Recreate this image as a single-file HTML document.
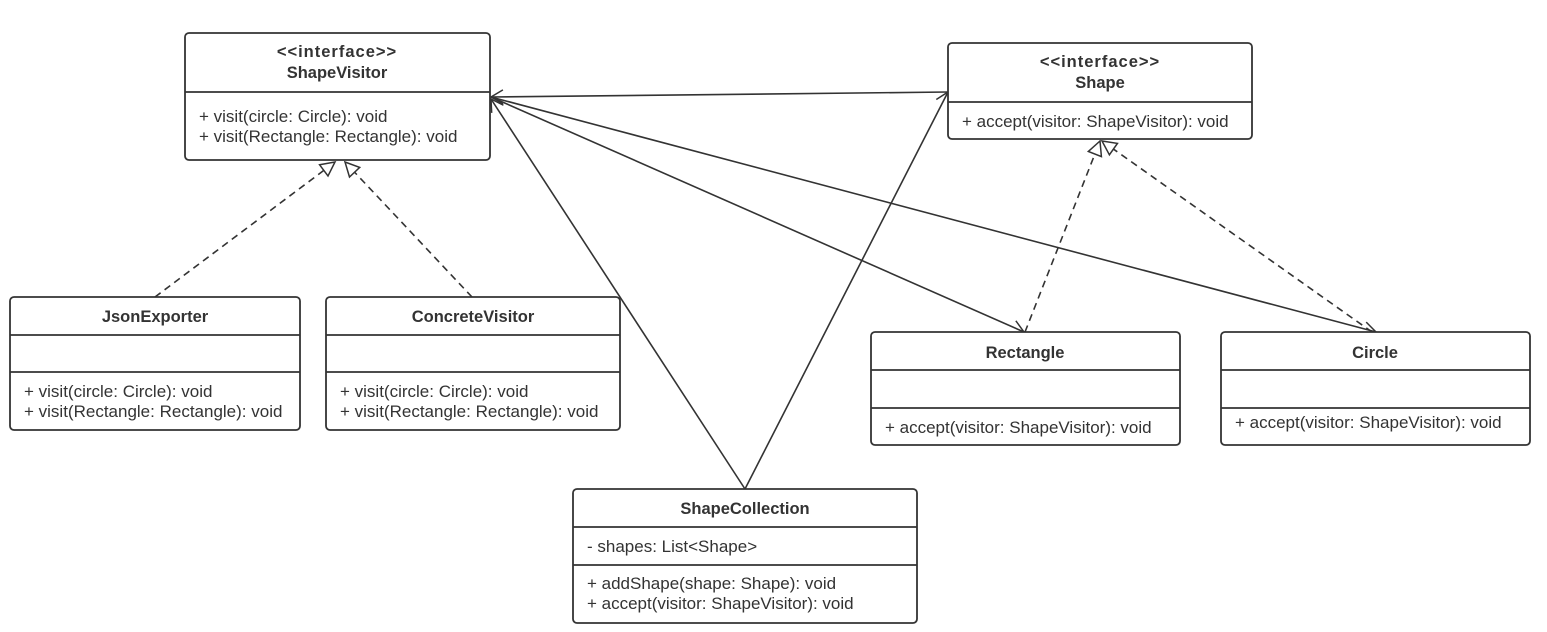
<!DOCTYPE html>
<html><head><meta charset="utf-8"><style>body{margin:0;background:#fff}svg{display:block}text{font-family:"Liberation Sans","Noto Sans CJK SC",sans-serif;font-size:17px;fill:#333}.b{font-weight:bold;text-anchor:middle;font-size:16.5px}</style></head><body>
<svg width="1547" height="632" viewBox="0 0 1547 632">
<defs>
<marker id="open" markerWidth="16" markerHeight="16" refX="13" refY="8" orient="auto" markerUnits="userSpaceOnUse"><path d="M1,1 L13,8 L1,15" fill="none" stroke="#333" stroke-width="1.5"/></marker>
<marker id="tri" markerWidth="18" markerHeight="18" refX="16" refY="9" orient="auto" markerUnits="userSpaceOnUse"><path d="M2,2 L16,9 L2,16 Z" fill="#fff" stroke="#333" stroke-width="1.5"/></marker>
</defs>
<g stroke="#333" stroke-width="1.6" fill="none">
<line x1="155" y1="297" x2="335" y2="162" stroke-dasharray="7,5" marker-end="url(#tri)"/>
<line x1="472" y1="297" x2="345" y2="162" stroke-dasharray="7,5" marker-end="url(#tri)"/>
<line x1="1025" y1="332" x2="1100" y2="141" stroke-dasharray="7,5" marker-end="url(#tri)"/>
<line x1="1372" y1="332" x2="1102" y2="141" stroke-dasharray="7,5" marker-end="url(#tri)"/>
<line x1="948" y1="92" x2="491" y2="97" marker-end="url(#open)"/>
<line x1="491" y1="97" x2="1024" y2="332" marker-end="url(#open)"/>
<line x1="491" y1="97" x2="1376" y2="332" marker-end="url(#open)"/>
<line x1="745" y1="489" x2="491" y2="99" marker-end="url(#open)"/>
<line x1="745" y1="489" x2="948" y2="92" marker-end="url(#open)"/>
</g>
<g stroke="#333" stroke-width="1.8" fill="#fff">
<rect x="185" y="33" width="305" height="127" rx="4"/><line x1="185" y1="92" x2="490" y2="92"/>
<rect x="948" y="43" width="304" height="96" rx="4"/><line x1="948" y1="102" x2="1252" y2="102"/>
<rect x="10" y="297" width="290" height="133" rx="4"/><line x1="10" y1="335" x2="300" y2="335"/><line x1="10" y1="372" x2="300" y2="372"/>
<rect x="326" y="297" width="294" height="133" rx="4"/><line x1="326" y1="335" x2="620" y2="335"/><line x1="326" y1="372" x2="620" y2="372"/>
<rect x="871" y="332" width="309" height="113" rx="4"/><line x1="871" y1="370" x2="1180" y2="370"/><line x1="871" y1="408" x2="1180" y2="408"/>
<rect x="1221" y="332" width="309" height="113" rx="4"/><line x1="1221" y1="370" x2="1530" y2="370"/><line x1="1221" y1="408" x2="1530" y2="408"/>
<rect x="573" y="489" width="344" height="134" rx="4"/><line x1="573" y1="527" x2="917" y2="527"/><line x1="573" y1="565" x2="917" y2="565"/>
</g>
<text class="b" x="337" y="57" letter-spacing="1">&lt;&lt;interface&gt;&gt;</text>
<text class="b" x="337" y="78">ShapeVisitor</text>
<text x="199" y="122">+ visit(circle: Circle): void</text>
<text x="199" y="142">+ visit(Rectangle: Rectangle): void</text>
<text class="b" x="1100" y="67" letter-spacing="1">&lt;&lt;interface&gt;&gt;</text>
<text class="b" x="1100" y="88">Shape</text>
<text x="962" y="127">+ accept(visitor: ShapeVisitor): void</text>
<text class="b" x="155" y="322">JsonExporter</text>
<text x="24" y="397">+ visit(circle: Circle): void</text>
<text x="24" y="417">+ visit(Rectangle: Rectangle): void</text>
<text class="b" x="473" y="322">ConcreteVisitor</text>
<text x="340" y="397">+ visit(circle: Circle): void</text>
<text x="340" y="417">+ visit(Rectangle: Rectangle): void</text>
<text class="b" x="1025" y="358">Rectangle</text>
<text x="885" y="433">+ accept(visitor: ShapeVisitor): void</text>
<text class="b" x="1375" y="358">Circle</text>
<text x="1235" y="428">+ accept(visitor: ShapeVisitor): void</text>
<text class="b" x="745" y="514">ShapeCollection</text>
<text x="587" y="552">- shapes:  List&lt;Shape&gt;</text>
<text x="587" y="589">+ addShape(shape: Shape): void</text>
<text x="587" y="609">+ accept(visitor: ShapeVisitor): void</text>
</svg>
</body></html>
